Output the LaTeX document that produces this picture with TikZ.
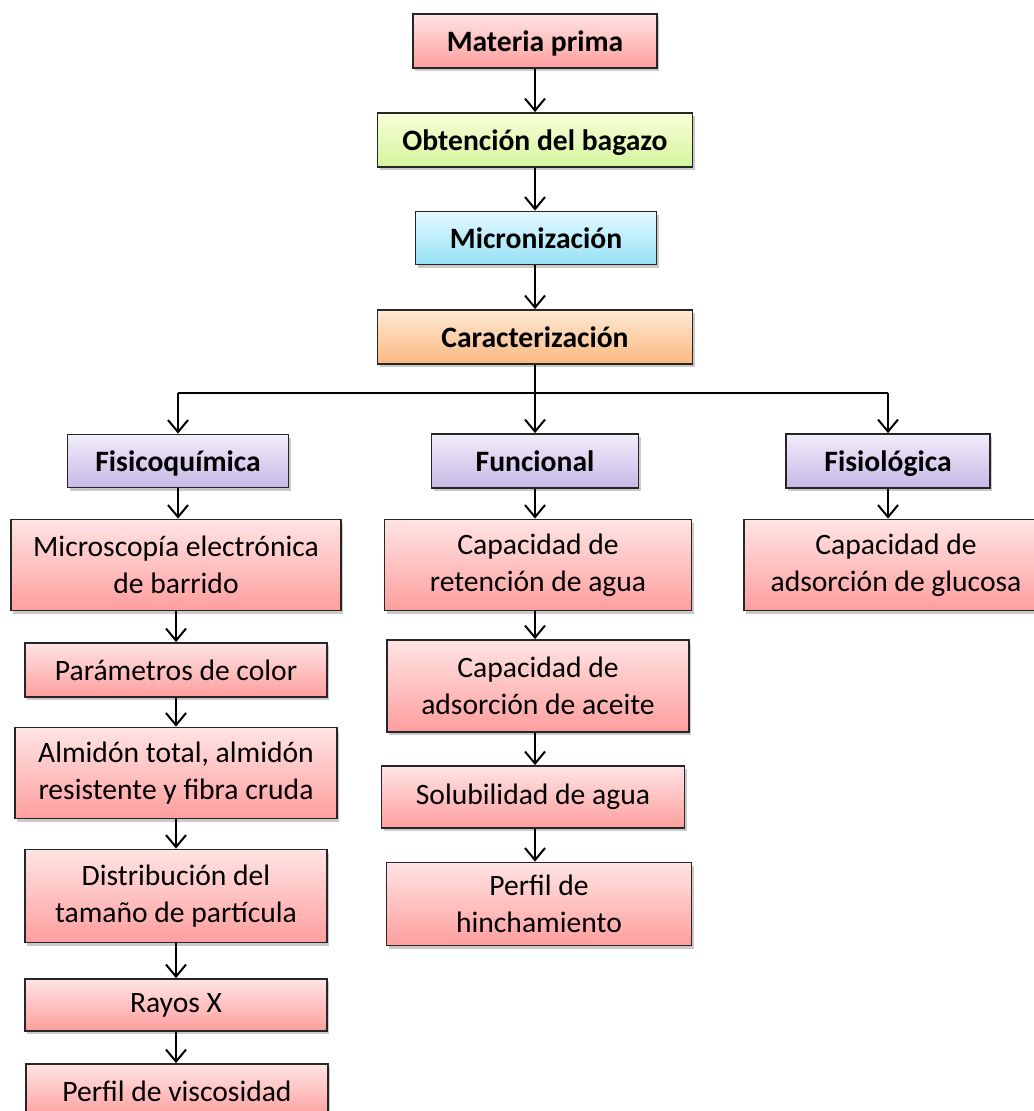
\documentclass[tikz,border=0pt]{standalone}
\usepackage{fontspec}
\setmainfont{Carlito}
\usetikzlibrary{arrows.meta,shadows}
\definecolor{pkT}{RGB}{255,228,228}
\definecolor{pkB}{RGB}{255,158,158}
\definecolor{grT}{RGB}{248,255,215}
\definecolor{grB}{RGB}{212,244,158}
\definecolor{blT}{RGB}{228,249,255}
\definecolor{blB}{RGB}{150,225,246}
\definecolor{orT}{RGB}{255,234,212}
\definecolor{orB}{RGB}{250,184,128}
\definecolor{puT}{RGB}{242,237,250}
\definecolor{puB}{RGB}{198,184,230}
\begin{document}
\begin{tikzpicture}[x=0.5pt, y=-0.5pt,
  bx/.style={draw=black!85, line width=0.9pt, align=center, inner sep=2pt,
    font=\fontsize{14.8}{18.5}\selectfont,
    drop shadow={shadow xshift=1.2pt, shadow yshift=-1.6pt, opacity=0.35, fill=black!60}},
  pink/.style={bx, top color=pkT, bottom color=pkB},
  head/.style={bx, text depth=0pt, font=\fontsize{14.8}{18.5}\selectfont\bfseries},
  arr/.style={line width=1pt, -{Straight Barb[length=6pt, width=10pt, line width=1pt]}}]
\useasboundingbox (0,0) rectangle (1033,1111);
% main line
\node[head, top color=pkT, bottom color=pkB, minimum width=122pt, minimum height=27pt] (bx0) at (535,41) {Materia prima};
\node[head, top color=grT, bottom color=grB, minimum width=157.5pt, minimum height=27pt] (bx1) at (535,140) {Obtención del bagazo};
\node[head, top color=blT, bottom color=blB, minimum width=120.5pt, minimum height=26.5pt] (bx2) at (536,238) {Micronización};
\node[head, top color=orT, bottom color=orB, minimum width=157.5pt, minimum height=27pt] (bx3) at (535,337) {Caracterización};
\draw[arr] (bx0) -- (bx0 |- bx1.north);
\draw[arr] (bx1) -- (bx1 |- bx2.north);
\draw[arr] (bx2.south -| bx1) -- (bx1 |- bx3.north);
% branches
\node[head, top color=puT, bottom color=puB, minimum width=110.5pt, minimum height=26.5pt] (bx4) at (178,461) {Fisicoquímica};
\node[head, top color=puT, bottom color=puB, minimum width=103.5pt, minimum height=27pt] (bx5) at (535,461) {Funcional};
\node[head, top color=puT, bottom color=puB, minimum width=102pt, minimum height=27pt] (bx6) at (888,461) {Fisiológica};
\coordinate (split) at (535,393);
\draw[arr] (bx3) -- (bx5);
\draw[line width=1pt] (split -| bx4) -- (split -| bx6);
\draw[arr] (split -| bx4) -- (bx4);
\draw[arr] (split -| bx6) -- (bx6);
% fisicoquimica
\node[pink, minimum width=165pt, minimum height=45.5pt] (bx7) at (176,565) {Microscopía electrónica\\de barrido};
\node[pink, minimum width=151pt, minimum height=27pt] (bx8) at (176,670) {Parámetros de color};
\node[pink, minimum width=161pt, minimum height=45.5pt] (bx9) at (176,773) {Almidón total, almidón\\resistente y fibra cruda};
\node[pink, minimum width=151pt, minimum height=46.5pt] (bx10) at (176,896) {Distribución del\\tamaño de partícula};
\node[pink, minimum width=151pt, minimum height=26pt] (bx11) at (176,1005) {Rayos X};
\node[pink, minimum width=151pt, minimum height=27pt] (bx12) at (177,1091) {Perfil de viscosidad};
\draw[arr] (bx4) -- (bx4 |- bx7.north);
\draw[arr] (bx7) -- (bx7 |- bx8.north);
\draw[arr] (bx8) -- (bx8 |- bx9.north);
\draw[arr] (bx9) -- (bx9 |- bx10.north);
\draw[arr] (bx10) -- (bx10 |- bx11.north);
\draw[arr] (bx11) -- (bx11 |- bx12.north);
% funcional
\node[pink, minimum width=153.5pt, minimum height=45.5pt] (bx13) at (538,565) {Capacidad de\\retención de agua};
\node[pink, minimum width=151pt, minimum height=46pt] (bx14) at (538,686) {Capacidad de\\adsorción de aceite};
\node[pink, minimum width=151.5pt, minimum height=31pt] (bx15) at (533,797) {Solubilidad de agua};
\node[pink, minimum width=152.5pt, minimum height=41.5pt] (bx16) at (539,904) {Perfil de\\hinchamiento};
\draw[arr] (bx5) -- (bx5 |- bx13.north);
\draw[arr] (bx13.south -| bx5) -- (bx5 |- bx14.north);
\draw[arr] (bx14.south -| bx5) -- (bx5 |- bx15.north);
\draw[arr] (bx15.south -| bx5) -- (bx5 |- bx16.north);
% fisiologica
\node[pink, minimum width=152pt, minimum height=45.5pt] (bx17) at (896,565) {Capacidad de\\adsorción de glucosa};
\draw[arr] (bx6) -- (bx6 |- bx17.north);
\end{tikzpicture}
\end{document}
